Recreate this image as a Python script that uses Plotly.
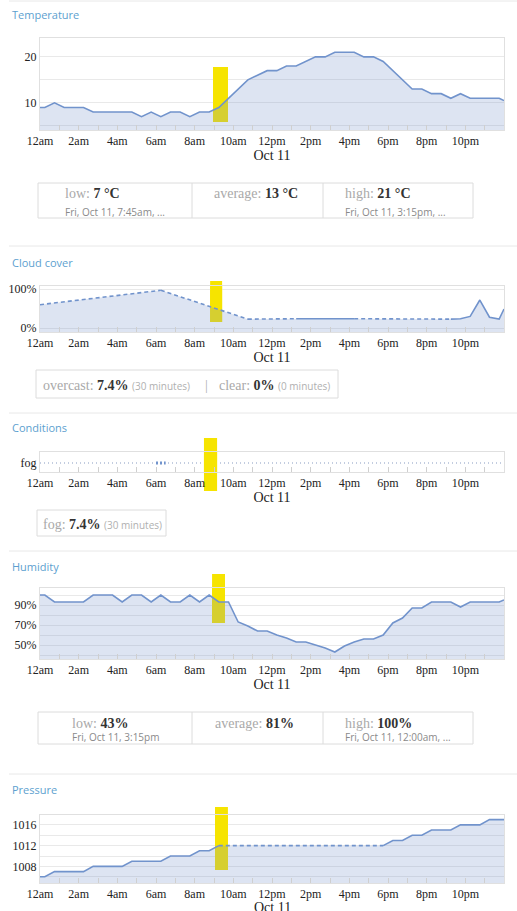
import plotly.graph_objects as go

W, H = 517, 911

# ---------------- data ----------------
hour_ticks = [0, 2, 4, 6, 8, 10, 12, 14, 16, 18, 20, 22]
hour_labels = ["12am", "2am", "4am", "6am", "8am", "10am", "12pm", "2pm", "4pm", "6pm", "8pm", "10pm"]
date_label = "Oct 11"

times = [0.0, 0.25, 0.75, 1.25, 1.75, 2.25, 2.75, 3.25, 3.75, 4.25, 4.75, 5.25, 5.75,
         6.25, 6.75, 7.25, 7.75, 8.25, 8.75, 9.25, 9.75, 10.25, 10.75, 11.25, 11.75,
         12.25, 12.75, 13.25, 13.75, 14.25, 14.75, 15.25, 15.75, 16.25, 16.75, 17.25,
         17.75, 18.25, 18.75, 19.25, 19.75, 20.25, 20.75, 21.25, 21.75, 22.25, 22.75,
         23.25, 23.75, 24.0]

temperature = [9, 9, 10, 9, 9, 9, 8, 8, 8, 8, 8, 7, 8, 7, 8, 8, 7, 8, 8, 9, 11, 13, 15,
               16, 17, 17, 18, 18, 19, 20, 20, 21, 21, 21, 20, 20, 19, 17, 15, 13, 13,
               12, 12, 11, 12, 11, 11, 11, 11, 10.5]

humidity = [100, 100, 93, 93, 93, 93, 100, 100, 100, 93, 100, 100, 93, 100, 93, 93, 100,
            93, 100, 93, 93, 73, 69, 64, 64, 60, 57, 53, 53, 50, 47, 43, 49, 53, 56, 56,
            60, 72, 77, 87, 87, 93, 93, 93, 88, 93, 93, 93, 93, 95]

pressure_times = [0.0, 0.25, 0.75, 1.25, 1.75, 2.25, 2.75, 3.25, 3.75, 4.25, 4.75, 5.25,
                  5.75, 6.25, 6.75, 7.25, 7.75, 8.25, 8.75, 9.25, 17.75, 18.25, 18.75,
                  19.25, 19.75, 20.25, 20.75, 21.25, 21.75, 22.25, 22.75, 23.25, 23.75, 24.0]
pressure = [1006, 1006, 1007, 1007, 1007, 1007, 1008, 1008, 1008, 1008, 1009, 1009, 1009,
            1009, 1010, 1010, 1010, 1011, 1011, 1012, 1012, 1013, 1013, 1014, 1014, 1015,
            1015, 1015, 1016, 1016, 1016, 1017, 1017, 1017]

cloud_times = [0.0, 6.25, 10.75, 13.25, 13.75, 14.25, 14.75, 15.25, 15.75, 16.25,
               21.25, 21.75, 22.25, 22.75, 23.25, 23.75, 24.0]
cloud = [60, 97, 23, 24, 24, 24, 24, 24, 24, 24, 23, 24, 30, 72, 28, 23, 49]

fog_times = [6.0, 6.5]
condition_labels = ["fog"]

temp_stats = {"low": "7 °C", "low_when": "Fri, Oct 11, 7:45am, ...",
              "average": "13 °C", "high": "21 °C", "high_when": "Fri, Oct 11, 3:15pm, ..."}
hum_stats = {"low": "43%", "low_when": "Fri, Oct 11, 3:15pm",
             "average": "81%", "high": "100%", "high_when": "Fri, Oct 11, 12:00am, ..."}
cloud_stats = [("overcast", "7.4%", "30 minutes"), ("clear", "0%", "0 minutes")]
cond_stats = [("fog", "7.4%", "30 minutes")]

# ---------------- styles ----------------
LINE = "#7193cc"
FILL = "rgba(112,142,200,0.24)"
YELLOW = "#f6e400"
TITLE_C = "#5d9fcf"
BORDER = "#e0e0e0"
GRID = "#e9e9e9"
SERIF = "Liberation Serif"
SANS = "Open Sans"


def X(px):
    return px / W


def Y(py):
    return 1 - py / H


fig = go.Figure()
shapes = []
annotations = []

# title_px: None -> regular axis title; a number -> date label placed as free text at that row
panels = [
    dict(n=1, title="Temperature", ty=15, top=38, bot=130, yr=[4.1, 24.1], date_row=None),
    dict(n=2, title="Cloud cover", ty=263, top=286, bot=332, yr=[-10, 108], date_row=None),
    dict(n=3, title="Conditions", ty=427, top=452, bot=472, yr=[-1, 1.2], date_row=None),
    dict(n=4, title="Humidity", ty=566, top=588, bot=659, yr=[36, 107], date_row=None),
    dict(n=5, title="Pressure", ty=789, top=815, bot=883, yr=[1004.8, 1017.9], date_row=907),
]

layout = dict(width=W, height=H, margin=dict(l=0, r=0, t=0, b=0, autoexpand=False),
              paper_bgcolor="white", plot_bgcolor="rgba(0,0,0,0)", showlegend=False)

tickfont = dict(family=SERIF, size=12, color="#222")
datefont = dict(family=SERIF, size=14, color="#222")

for p in panels:
    n = p["n"]
    sx = "" if n == 1 else str(n)
    layout["xaxis" + sx] = dict(
        domain=[X(40), X(504)], anchor="y" + sx, range=[0, 24], automargin=False,
        tickmode="array", tickvals=hour_ticks, ticktext=hour_labels,
        ticks="inside", ticklen=5, tickcolor="#cfcfcf",
        minor=dict(tickmode="linear", tick0=0, dtick=1, ticks="inside", ticklen=5,
                   tickcolor="#cfcfcf", showgrid=False),
        showgrid=False, zeroline=False, showline=True, mirror=True, linecolor=BORDER,
        tickfont=tickfont,
        title=dict(text=date_label if p["date_row"] is None else "", font=datefont, standoff=1),
        fixedrange=True)
    if p["date_row"] is not None:
        annotations.append(dict(x=X((40 + 504) / 2), y=Y(p["date_row"]), xref="paper", yref="paper",
                                xanchor="center", yanchor="middle", showarrow=False,
                                text=date_label, font=datefont))
    layout["yaxis" + sx] = dict(
        domain=[Y(p["bot"]), Y(p["top"])], anchor="x" + sx, range=p["yr"], automargin=False,
        showline=True, mirror=True, linecolor=BORDER, zeroline=False,
        gridcolor=GRID, tickfont=tickfont, ticks="", fixedrange=True)
    annotations.append(dict(x=X(10), y=Y(p["ty"]), xref="paper", yref="paper",
                            xanchor="left", yanchor="middle", showarrow=False,
                            text=p["title"], font=dict(family=SANS, size=11, color=TITLE_C)))

layout["yaxis"].update(tickmode="linear", tick0=0, dtick=10,
                       minor=dict(tickmode="linear", tick0=0, dtick=5, showgrid=True, gridcolor=GRID))
layout["yaxis2"].update(tickmode="array", tickvals=[0, 100], ticktext=["0%", "100%"])
layout["yaxis3"].update(tickmode="array", tickvals=[0], ticktext=condition_labels,
                        gridcolor="#c3cde0", griddash="1px,3px", gridwidth=1.5)
layout["yaxis4"].update(tickmode="linear", tick0=10, dtick=20, ticksuffix="%",
                        minor=dict(tickmode="linear", tick0=0, dtick=10, showgrid=True, gridcolor=GRID))
layout["yaxis5"].update(tickmode="linear", tick0=1008, dtick=4,
                        minor=dict(tickmode="linear", tick0=1006, dtick=2, showgrid=True, gridcolor=GRID))

# yellow highlight markers: (panel, start hour, end hour, top px row, bottom px row)
highlights = [(1, 8.95, 9.72, 67, 122), (2, 8.8, 9.42, 281, 322),
              (3, 8.48, 9.16, 438, 491), (4, 8.9, 9.57, 574, 623),
              (5, 9.05, 9.72, 807, 870)]


def axes_of(n):
    sx = "" if n == 1 else str(n)
    return "x" + sx, "y" + sx


def px_to_data(p, py):
    r0, r1 = p["yr"]
    return r0 + (p["bot"] - py) / (p["bot"] - p["top"]) * (r1 - r0)


def add_highlight(n):
    for hn, a, b, t, bt in highlights:
        if hn != n:
            continue
        p = panels[n - 1]
        xa, ya = axes_of(n)
        shapes.append(dict(type="rect", xref=xa, yref="paper", x0=a, x1=b, y0=Y(bt), y1=Y(t),
                           fillcolor=YELLOW, line=dict(width=0), layer="below"))
        lo = max(px_to_data(p, bt), p["yr"][0])
        hi = min(px_to_data(p, t), p["yr"][1])
        fig.add_trace(go.Scatter(x=[a, b, b, a, a], y=[lo, lo, hi, hi, lo], mode="lines",
                                 fill="toself", fillcolor=YELLOW, line=dict(width=0),
                                 xaxis=xa, yaxis=ya, hoverinfo="skip"))


def area_panel(n, xs, ys, gap=0.75):
    xa, ya = axes_of(n)
    ymin = panels[n - 1]["yr"][0]
    add_highlight(n)
    fig.add_trace(go.Scatter(x=xs, y=[ymin] * len(xs), mode="lines", line=dict(width=0),
                             xaxis=xa, yaxis=ya, hoverinfo="skip"))
    fig.add_trace(go.Scatter(x=xs, y=ys, mode="lines", line=dict(width=0), fill="tonexty",
                             fillcolor=FILL, xaxis=xa, yaxis=ya, hoverinfo="skip"))
    seg_x, seg_y = [xs[0]], [ys[0]]
    for i in range(1, len(xs)):
        if xs[i] - xs[i - 1] > gap:
            if len(seg_x) > 1:
                fig.add_trace(go.Scatter(x=seg_x, y=seg_y, mode="lines",
                                         line=dict(color=LINE, width=1.6), xaxis=xa, yaxis=ya))
            fig.add_trace(go.Scatter(x=[xs[i - 1], xs[i]], y=[ys[i - 1], ys[i]], mode="lines",
                                     line=dict(color=LINE, width=1.6, dash="4px,3px"),
                                     xaxis=xa, yaxis=ya))
            seg_x, seg_y = [xs[i]], [ys[i]]
        else:
            seg_x.append(xs[i])
            seg_y.append(ys[i])
    if len(seg_x) > 1:
        fig.add_trace(go.Scatter(x=seg_x, y=seg_y, mode="lines",
                                 line=dict(color=LINE, width=1.6), xaxis=xa, yaxis=ya))


area_panel(1, times, temperature)
area_panel(2, cloud_times, cloud)
area_panel(4, times, humidity)
area_panel(5, pressure_times, pressure)

add_highlight(3)
fig.add_trace(go.Scatter(x=fog_times, y=[0] * len(fog_times), mode="lines",
                         line=dict(color=LINE, width=3, dash="2px,2px"), xaxis="x3", yaxis="y3"))

# separators
for py in [1, 246, 413, 551, 774]:
    shapes.append(dict(type="line", xref="paper", yref="paper", x0=X(9), x1=1, y0=Y(py), y1=Y(py),
                       line=dict(color="#e8e8e8", width=1)))


def box(x0, x1, y0, y1, dividers=()):
    shapes.append(dict(type="rect", xref="paper", yref="paper", x0=X(x0), x1=X(x1),
                       y0=Y(y1), y1=Y(y0), line=dict(color="#dcdcdc", width=1),
                       fillcolor="rgba(0,0,0,0)"))
    for d in dividers:
        shapes.append(dict(type="line", xref="paper", yref="paper", x0=X(d), x1=X(d),
                           y0=Y(y1), y1=Y(y0), line=dict(color="#dcdcdc", width=1)))


def label(px, py, text, family=SERIF, size=14, color="#333"):
    annotations.append(dict(x=X(px), y=Y(py), xref="paper", yref="paper", xanchor="left",
                            yanchor="middle", showarrow=False, text=text,
                            font=dict(family=family, size=size, color=color)))


def stat_main(name, value):
    return f"<span style='color:#a9a9a9'>{name}: </span><b>{value}</b>"


def stat_block(stats, y0, y1, r1, r2, xs):
    box(38, 473, y0, y1, dividers=(192, 323))
    label(xs[0], r1, stat_main("low", stats["low"]))
    label(xs[0], r2, stats["low_when"], family=SANS, size=10, color="#8a8a8a")
    label(xs[1], r1, stat_main("average", stats["average"]))
    label(xs[2], r1, stat_main("high", stats["high"]))
    label(xs[2], r2, stats["high_when"], family=SANS, size=10, color="#8a8a8a")


stat_block(temp_stats, 183, 218, 194, 212, (63, 212, 343))
stat_block(hum_stats, 712, 744, 723, 737, (70, 213, 343))


def dur_text(name, pct, dur):
    return (f"<span style='color:#a9a9a9'>{name}: </span><b>{pct}</b> "
            f"<span style='font-family:{SANS};font-size:10px;color:#b0b0b0'>({dur})</span>")


box(36, 338, 370, 398)
label(41, 386, dur_text(*cloud_stats[0]))
label(203, 386, "|", color="#b0b0b0")
label(217, 386, dur_text(*cloud_stats[1]))

box(37, 166, 510, 536)
label(41, 524, dur_text(*cond_stats[0]))

layout["shapes"] = shapes
layout["annotations"] = annotations
fig.update_layout(**layout)

fig.write_html("out.html", config={"displayModeBar": False},
               post_script="document.body.style.margin='0';document.body.style.overflow='hidden';")
